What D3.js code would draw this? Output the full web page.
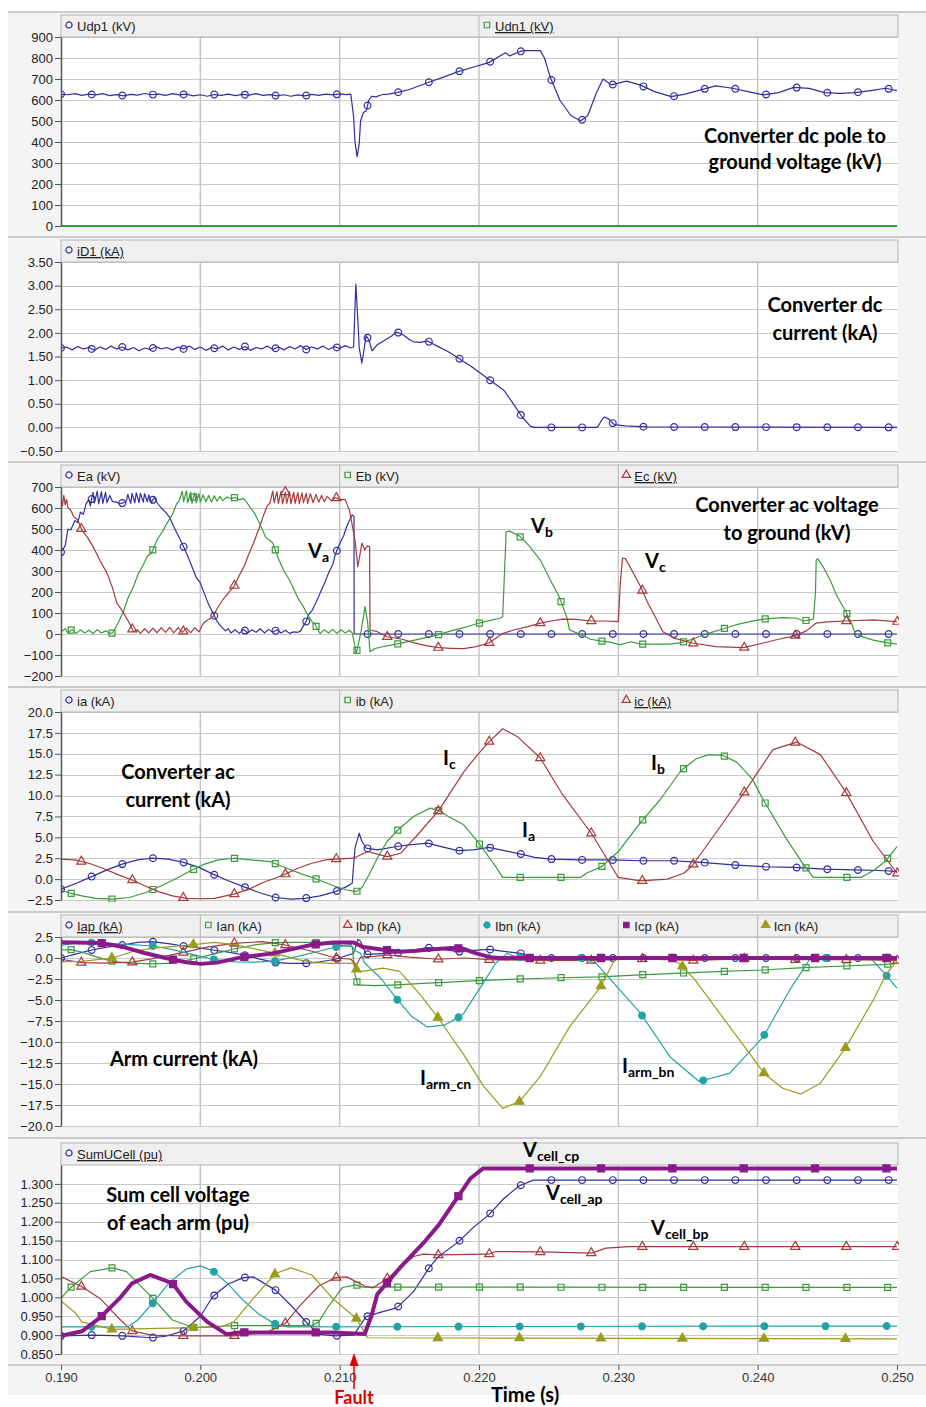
<!DOCTYPE html>
<html>
<head>
<meta charset="utf-8">
<script src="https://cdn.jsdelivr.net/npm/d3@7"></script>
<style>
body { margin: 0; background: #fff; }
.note { font-family: Lato, "Open Sans", sans-serif; font-weight: 700; fill: #000; }
</style>
</head>
<body>
<div id="chart"></div>
<script>
// ---- data (time in s, value) ----
var udp1 = [[0.1900,628],[0.1905,625],[0.1910,630],[0.1915,622],[0.1920,628],[0.1925,624],[0.1930,630],[0.1935,621],[0.1940,626],[0.1945,620],[0.1950,627],[0.1955,623],[0.1960,631],[0.1965,625],[0.1970,628],[0.1975,622],[0.1980,630],[0.1985,624],[0.1990,628],[0.1995,620],[0.2000,625],[0.2005,618],[0.2010,626],[0.2015,622],[0.2020,628],[0.2025,621],[0.2030,627],[0.2035,623],[0.2040,630],[0.2045,622],[0.2050,626],[0.2055,620],[0.2060,625],[0.2065,618],[0.2070,624],[0.2075,620],[0.2080,627],[0.2085,622],[0.2090,628],[0.2095,624],[0.2100,629],[0.2105,626],[0.2108,628],[0.2110,520],[0.2111,400],[0.21125,330],[0.2114,390],[0.2115,500],[0.2117,540],[0.2119,548],[0.2121,600],[0.2123,618],[0.2126,615],[0.2130,625],[0.2135,628],[0.2141,635],[0.2150,650],[0.2163,682],[0.2175,710],[0.2185,735],[0.2195,755],[0.2207,778],[0.2219,825],[0.2222,810],[0.2229,830],[0.2232,835],[0.2244,835],[0.2247,800],[0.2251,711],[0.2258,600],[0.2266,525],[0.2273,501],[0.2278,525],[0.2284,630],[0.2289,700],[0.2295,672],[0.2300,680],[0.2306,690],[0.2316,671],[0.2326,640],[0.2338,616],[0.2348,628],[0.2359,648],[0.2370,667],[0.2382,656],[0.2393,640],[0.2404,624],[0.2415,635],[0.2426,660],[0.2437,655],[0.2448,635],[0.2459,632],[0.2470,635],[0.2481,645],[0.2492,656],[0.2500,645]];
var udn1 = [[0.1900,0],[0.2500,0]];

var id1 = [[0.1900,1.68],[0.1904,1.70],[0.1908,1.64],[0.1912,1.71],[0.1916,1.66],[0.1920,1.69],[0.1924,1.63],[0.1928,1.70],[0.1932,1.65],[0.1936,1.72],[0.1940,1.66],[0.1944,1.70],[0.1948,1.64],[0.1952,1.69],[0.1956,1.62],[0.1960,1.68],[0.1964,1.65],[0.1968,1.71],[0.1972,1.66],[0.1976,1.69],[0.1980,1.64],[0.1984,1.70],[0.1988,1.66],[0.1992,1.72],[0.1996,1.65],[0.2000,1.70],[0.2004,1.63],[0.2008,1.69],[0.2012,1.66],[0.2016,1.72],[0.2020,1.64],[0.2024,1.70],[0.2028,1.65],[0.2032,1.71],[0.2036,1.63],[0.2040,1.69],[0.2044,1.66],[0.2048,1.72],[0.2052,1.65],[0.2056,1.70],[0.2060,1.64],[0.2064,1.71],[0.2068,1.66],[0.2072,1.73],[0.2076,1.65],[0.2080,1.70],[0.2084,1.66],[0.2088,1.72],[0.2092,1.65],[0.2096,1.71],[0.2100,1.67],[0.2104,1.73],[0.2108,1.68],[0.2110,1.70],[0.21116,3.03],[0.2113,2.30],[0.2114,1.70],[0.21159,1.36],[0.2117,1.55],[0.2119,1.94],[0.2121,1.85],[0.21233,1.62],[0.2127,1.75],[0.2132,1.84],[0.2137,1.93],[0.2141,2.02],[0.2146,1.95],[0.2150,1.86],[0.2153,1.81],[0.2158,1.80],[0.2163,1.83],[0.2170,1.72],[0.2178,1.60],[0.2185,1.47],[0.2195,1.28],[0.2207,1.02],[0.2218,0.78],[0.2225,0.48],[0.2231,0.22],[0.2237,0.02],[0.2240,0.0],[0.2285,0.0],[0.2288,0.15],[0.2290,0.22],[0.2293,0.18],[0.2297,0.06],[0.2305,0.03],[0.2320,0.01],[0.2500,0.0]];

var ea = [[0.1900,390],[0.1903,420],[0.1905,500],[0.1907,495],[0.1910,540],[0.1912,530],[0.1914,580],[0.1916,570],[0.1918,620],[0.1920,640],[0.1921,610],[0.1923,675],[0.1924,625],[0.1926,680],[0.1927,620],[0.1929,678],[0.1930,622],[0.1932,675],[0.1933,625],[0.1935,660],[0.1937,630],[0.1940,628],[0.1942,620],[0.1945,625],[0.1947,635],[0.1948,665],[0.1950,622],[0.1951,670],[0.1953,625],[0.1954,672],[0.1956,626],[0.1957,670],[0.1959,628],[0.1960,668],[0.1962,630],[0.1963,662],[0.1965,628],[0.1967,650],[0.1969,625],[0.1972,600],[0.1975,580],[0.1978,555],[0.1981,510],[0.1984,470],[0.1988,416],[0.1991,370],[0.1994,320],[0.1997,270],[0.2000,243],[0.2003,190],[0.2006,140],[0.2009,100],[0.2012,60],[0.2015,35],[0.2018,15],[0.2020,25],[0.2022,5],[0.2025,20],[0.2028,3],[0.2031,22],[0.2034,5],[0.2037,20],[0.2040,8],[0.2043,25],[0.2046,5],[0.2049,22],[0.2052,8],[0.2055,20],[0.2058,5],[0.2061,18],[0.2064,3],[0.2067,10],[0.2070,8],[0.2072,15],[0.2074,40],[0.2076,60],[0.2078,95],[0.2080,110],[0.2083,150],[0.2086,195],[0.2089,240],[0.2092,290],[0.2095,330],[0.2097,380],[0.2100,430],[0.2103,470],[0.2105,511],[0.2107,540],[0.2109,567],[0.21103,560],[0.21104,0],[0.2500,0]];
var eb = [[0.1900,10],[0.1903,25],[0.1905,5],[0.1908,22],[0.1911,3],[0.1914,20],[0.1917,5],[0.1920,18],[0.1923,2],[0.1926,20],[0.1929,5],[0.1932,15],[0.1935,3],[0.1937,5],[0.1940,40],[0.1942,67],[0.1945,110],[0.1948,170],[0.1952,225],[0.1955,280],[0.1959,330],[0.1962,370],[0.1965,386],[0.1969,450],[0.1973,490],[0.1976,527],[0.1980,570],[0.1983,620],[0.1985,638],[0.1987,680],[0.1988,630],[0.1990,682],[0.1991,625],[0.1993,675],[0.1994,622],[0.1996,672],[0.1997,624],[0.1999,668],[0.2000,628],[0.2002,662],[0.2004,630],[0.2006,660],[0.2008,628],[0.2010,658],[0.2012,632],[0.2014,655],[0.2016,635],[0.2019,652],[0.2022,645],[0.2025,650],[0.2028,640],[0.2031,645],[0.2033,630],[0.2036,600],[0.2039,574],[0.2043,520],[0.2047,460],[0.2052,433],[0.2056,360],[0.2060,300],[0.2064,257],[0.2068,200],[0.2071,160],[0.2074,130],[0.2077,90],[0.2080,60],[0.2082,50],[0.2084,25],[0.2086,2],[0.2089,20],[0.2092,5],[0.2095,22],[0.2098,3],[0.2101,20],[0.2104,5],[0.2107,18],[0.2109,5],[0.2111,-60],[0.21118,-95],[0.2113,-60],[0.2115,0],[0.2117,80],[0.21182,130],[0.2120,60],[0.21218,-84],[0.2125,-70],[0.2130,-62],[0.2135,-55],[0.2141,-48],[0.2150,-35],[0.2160,-20],[0.2170,-5],[0.2180,15],[0.2189,30],[0.2199,50],[0.2208,65],[0.2215,75],[0.2217,82],[0.22195,487],[0.2222,490],[0.2229,467],[0.2236,420],[0.2244,352],[0.2251,260],[0.2258,171],[0.2263,80],[0.2265,19],[0.2271,3],[0.2280,-25],[0.2287,-33],[0.2295,-40],[0.2301,-52],[0.2309,-37],[0.2316,-48],[0.2325,-48],[0.2337,-48],[0.2345,-41],[0.2353,-25],[0.2361,-5],[0.2368,10],[0.2375,24],[0.2385,45],[0.2395,60],[0.2404,71],[0.2418,78],[0.2428,75],[0.2433,62],[0.2440,71],[0.24415,200],[0.2442,352],[0.2443,359],[0.2447,320],[0.2452,257],[0.2457,180],[0.2463,111],[0.2468,40],[0.2470,2],[0.2476,-15],[0.2483,-29],[0.2492,-41],[0.2500,-48]];
var ec = [[0.1900,650],[0.1901,610],[0.1902,660],[0.1903,615],[0.1904,640],[0.1905,600],[0.1907,590],[0.1909,560],[0.1912,543],[0.1915,495],[0.1919,460],[0.1923,416],[0.1928,350],[0.1933,290],[0.1937,220],[0.1940,148],[0.1944,110],[0.1947,76],[0.1950,40],[0.1952,11],[0.1955,20],[0.1957,3],[0.1960,25],[0.1963,5],[0.1966,28],[0.1969,6],[0.1972,30],[0.1975,8],[0.1978,32],[0.1981,5],[0.1984,30],[0.1987,8],[0.1990,28],[0.1993,5],[0.1996,30],[0.1999,10],[0.2002,50],[0.2005,65],[0.2009,82],[0.2012,120],[0.2016,162],[0.2020,195],[0.2024,225],[0.2028,280],[0.2032,330],[0.2034,368],[0.2038,430],[0.2042,500],[0.2045,559],[0.2048,610],[0.2050,625],[0.2052,680],[0.2053,625],[0.2055,678],[0.2056,622],[0.2058,680],[0.2059,620],[0.2061,676],[0.2062,622],[0.2064,678],[0.2065,620],[0.2067,675],[0.2068,622],[0.2070,674],[0.2071,620],[0.2073,672],[0.2074,625],[0.2076,670],[0.2077,622],[0.2079,668],[0.2081,625],[0.2083,665],[0.2085,628],[0.2087,660],[0.2089,630],[0.2091,655],[0.2094,635],[0.2097,650],[0.2100,640],[0.2104,640],[0.2107,590],[0.2111,448],[0.2113,321],[0.2116,433],[0.2118,400],[0.2120,420],[0.21215,415],[0.21218,19],[0.2127,11],[0.2134,-13],[0.2145,-25],[0.2153,-41],[0.2162,-55],[0.2171,-65],[0.2180,-68],[0.2189,-70],[0.2198,-60],[0.2207,-43],[0.2217,2],[0.2225,19],[0.2235,35],[0.2244,52],[0.2252,62],[0.2260,71],[0.2270,70],[0.2281,62],[0.2290,62],[0.2300,59],[0.23015,250],[0.2303,362],[0.2305,359],[0.2310,300],[0.2316,225],[0.2321,150],[0.2325,100],[0.2332,11],[0.2340,-20],[0.2353,-43],[0.2370,-60],[0.2390,-65],[0.2404,-43],[0.2415,-25],[0.2426,-10],[0.2435,15],[0.2442,52],[0.2450,58],[0.2463,62],[0.2483,67],[0.2500,59]];

var ia = [[0.1900,-1.2],[0.1911,-0.5],[0.1922,0.3],[0.1933,1.1],[0.1944,1.8],[0.1955,2.3],[0.1965,2.5],[0.1977,2.4],[0.1988,2.0],[0.1999,1.4],[0.2009,0.6],[0.2020,-0.2],[0.2031,-0.9],[0.2042,-1.6],[0.2054,-2.2],[0.2065,-2.4],[0.2075,-2.3],[0.2086,-2.0],[0.2097,-1.5],[0.2105,-0.9],[0.2109,-0.5],[0.2111,3.7],[0.2114,5.5],[0.2116,4.5],[0.2119,3.7],[0.2127,3.5],[0.2141,3.9],[0.2150,4.1],[0.2163,4.3],[0.2175,3.8],[0.2185,3.4],[0.2196,3.5],[0.2207,3.8],[0.2218,3.4],[0.2230,3.0],[0.2240,2.6],[0.2251,2.4],[0.2273,2.3],[0.2295,2.3],[0.2316,2.2],[0.2339,2.2],[0.2350,2.1],[0.2360,2.0],[0.2382,1.7],[0.2404,1.5],[0.2426,1.4],[0.2448,1.2],[0.2470,1.1],[0.2492,1.0],[0.2500,0.9]];
var ib = [[0.1900,-1.3],[0.1907,-1.7],[0.1915,-2.0],[0.1925,-2.3],[0.1937,-2.4],[0.1949,-2.2],[0.1961,-1.6],[0.1972,-0.8],[0.1983,0.1],[0.1993,1.0],[0.2003,1.8],[0.2013,2.3],[0.2024,2.5],[0.2036,2.3],[0.2050,2.1],[0.2062,1.3],[0.2073,0.6],[0.2082,0.1],[0.2094,-0.7],[0.2105,-1.3],[0.2112,-1.5],[0.2116,-1.0],[0.2121,0.5],[0.2127,2.5],[0.2134,4.5],[0.2141,5.75],[0.2153,7.5],[0.2165,8.5],[0.2171,8.2],[0.2178,7.5],[0.2189,6.5],[0.2199,4.5],[0.2212,1.5],[0.2217,0.2],[0.2273,0.2],[0.2277,0.7],[0.2288,1.5],[0.2300,3.3],[0.2316,6.8],[0.2330,9.5],[0.2345,13.0],[0.2356,14.4],[0.2365,14.9],[0.2375,14.8],[0.2385,14.0],[0.2396,12.0],[0.2404,9.5],[0.2420,5.0],[0.2433,1.7],[0.2440,0.2],[0.2474,0.2],[0.2483,1.0],[0.2492,2.2],[0.2500,3.9]];
var ic = [[0.1900,2.4],[0.1910,2.3],[0.1920,1.9],[0.1930,1.3],[0.1940,0.6],[0.1951,-0.1],[0.1960,-0.8],[0.1970,-1.5],[0.1980,-2.0],[0.1990,-2.3],[0.2000,-2.35],[0.2010,-2.3],[0.2024,-1.8],[0.2035,-1.2],[0.2045,-0.4],[0.2055,0.2],[0.2061,0.6],[0.2070,1.3],[0.2080,1.9],[0.2090,2.3],[0.2097,2.4],[0.2110,2.5],[0.2120,3.3],[0.2127,3.0],[0.2134,2.7],[0.2144,3.1],[0.2158,5.7],[0.2171,8.2],[0.2180,10.5],[0.2189,12.8],[0.2198,14.7],[0.2207,16.4],[0.2217,18.0],[0.2228,17.0],[0.2244,14.5],[0.2260,10.1],[0.2281,5.4],[0.2300,0.2],[0.2316,-0.2],[0.2335,0.0],[0.2347,0.7],[0.2353,1.6],[0.2372,6.0],[0.2390,10.3],[0.2411,15.5],[0.2428,16.4],[0.2445,14.9],[0.2463,10.5],[0.2483,4.5],[0.2500,0.7]];

var iap = [[0.1900,0.0],[0.1911,0.5],[0.1922,0.95],[0.1933,1.3],[0.1944,1.55],[0.1955,1.85],[0.1965,1.95],[0.1977,1.7],[0.1988,1.43],[0.1999,1.2],[0.2009,0.95],[0.2020,0.7],[0.2031,0.36],[0.2042,-0.1],[0.2054,-0.55],[0.2065,-0.65],[0.2075,-0.63],[0.2086,-0.45],[0.2097,-0.15],[0.2105,0.3],[0.2110,0.55],[0.2113,2.2],[0.2115,2.0],[0.2117,1.15],[0.2119,0.44],[0.2128,0.5],[0.2141,0.6],[0.2152,0.9],[0.2163,1.23],[0.2175,1.0],[0.2185,0.75],[0.2196,0.9],[0.2207,1.03],[0.2218,0.8],[0.2230,0.55],[0.2237,0.1],[0.2245,0.0],[0.2500,0.0]];
var ian = [[0.1900,0.95],[0.1907,1.0],[0.1915,0.7],[0.1926,0.1],[0.1937,-0.4],[0.1948,-0.6],[0.1966,-0.7],[0.1980,-0.6],[0.1995,-0.12],[0.2010,0.5],[0.2024,1.07],[0.2040,1.6],[0.2054,1.83],[0.2068,1.85],[0.2082,1.85],[0.2097,1.55],[0.2109,1.35],[0.2111,-2.0],[0.2113,-3.2],[0.2125,-3.3],[0.2141,-3.2],[0.2163,-3.0],[0.2175,-2.9],[0.2199,-2.7],[0.2229,-2.5],[0.2258,-2.35],[0.2287,-2.25],[0.2316,-2.0],[0.2345,-1.8],[0.2375,-1.6],[0.2404,-1.43],[0.2433,-1.15],[0.2463,-0.95],[0.2492,-0.75],[0.2500,-0.63]];
var ibp = [[0.1900,-0.15],[0.1915,-0.55],[0.1930,-0.6],[0.1951,-0.5],[0.1965,-0.1],[0.1988,0.67],[0.2005,1.3],[0.2024,1.75],[0.2045,1.95],[0.2061,1.55],[0.2080,0.8],[0.2097,0.0],[0.2108,-0.15],[0.2112,-0.83],[0.2115,0.1],[0.2125,0.2],[0.2134,0.36],[0.2150,0.1],[0.2171,-0.15],[0.2190,0.0],[0.2207,-0.2],[0.2244,-0.3],[0.2280,-0.3],[0.2316,-0.1],[0.2353,-0.3],[0.2390,-0.1],[0.2426,-0.2],[0.2463,-0.2],[0.2500,-0.3]];
var ibn = [[0.1900,1.5],[0.1912,1.8],[0.1922,1.83],[0.1935,1.75],[0.1950,1.6],[0.1966,1.43],[0.1980,1.0],[0.1995,0.4],[0.2009,-0.15],[0.2025,-0.45],[0.2040,-0.5],[0.2054,-0.35],[0.2070,0.2],[0.2085,0.8],[0.2097,1.3],[0.2108,1.6],[0.2111,0.9],[0.2115,0.55],[0.2118,-0.6],[0.2130,-2.5],[0.2141,-4.9],[0.2152,-7.0],[0.2163,-8.2],[0.2175,-8.0],[0.2185,-7.1],[0.2189,-6.6],[0.2203,-3.0],[0.2212,-0.63],[0.2220,0.55],[0.2227,0.1],[0.2240,0.0],[0.2273,0.0],[0.2284,-0.6],[0.2316,-6.6],[0.2337,-11.75],[0.2358,-14.7],[0.2380,-13.7],[0.2404,-9.4],[0.2423,-3.8],[0.2438,0.0],[0.2481,0.0],[0.2492,-2.0],[0.2500,-3.6]];
var icp = [[0.1900,1.87],[0.1928,1.8],[0.1945,1.3],[0.1960,0.6],[0.1975,0.0],[0.1990,-0.5],[0.2000,-0.7],[0.2012,-0.55],[0.2030,0.1],[0.2052,0.55],[0.2070,1.2],[0.2081,1.6],[0.2095,1.85],[0.2110,1.85],[0.2117,1.3],[0.2130,1.0],[0.2143,0.75],[0.2155,0.85],[0.2165,1.0],[0.2180,1.2],[0.2189,1.1],[0.2198,0.55],[0.2208,0.1],[0.2215,0.0],[0.2500,0.0]];
var icn = [[0.1900,-0.44],[0.1915,-0.4],[0.1937,0.0],[0.1952,0.8],[0.1965,1.15],[0.1995,1.6],[0.2010,1.85],[0.2025,1.6],[0.2054,0.55],[0.2070,-0.2],[0.2082,-0.55],[0.2095,-0.63],[0.2110,-0.63],[0.2112,-1.35],[0.2116,-1.6],[0.2131,-1.2],[0.2143,-1.6],[0.2158,-4.4],[0.2171,-7.2],[0.2189,-11.5],[0.2203,-15.2],[0.2217,-17.9],[0.2229,-17.1],[0.2244,-14.1],[0.2265,-8.2],[0.2287,-3.5],[0.2298,0.0],[0.2337,0.0],[0.2345,-0.8],[0.2355,-2.6],[0.2380,-8.2],[0.2405,-13.8],[0.2418,-15.5],[0.2431,-16.2],[0.2445,-14.9],[0.2463,-10.7],[0.2483,-5.0],[0.2492,-2.0],[0.2500,-0.3]];

var cellAp = [[0.1900,0.898],[0.1922,0.90],[0.1944,0.898],[0.1965,0.893],[0.1975,0.897],[0.1988,0.911],[0.2000,0.95],[0.2009,1.002],[0.2020,1.035],[0.2031,1.052],[0.2038,1.054],[0.2054,1.019],[0.2066,0.975],[0.2075,0.938],[0.2085,0.902],[0.2097,0.898],[0.2110,0.90],[0.2115,0.927],[0.2119,0.949],[0.2131,0.962],[0.2141,0.972],[0.2153,1.015],[0.2164,1.077],[0.2171,1.108],[0.2185,1.146],[0.2196,1.185],[0.2207,1.218],[0.2218,1.262],[0.2229,1.295],[0.2239,1.31],[0.2500,1.31]];
var cellAn = [[0.1900,0.997],[0.1907,1.026],[0.1921,1.068],[0.1937,1.078],[0.1947,1.068],[0.1966,0.997],[0.1980,0.94],[0.1995,0.92],[0.2005,0.922],[0.2024,0.925],[0.2080,0.925],[0.2085,0.935],[0.2091,0.971],[0.2102,1.026],[0.2112,1.033],[0.2116,1.027],[0.2500,1.026]];
var cellBp = [[0.1900,1.055],[0.1915,1.028],[0.1928,0.997],[0.1940,0.95],[0.1951,0.911],[0.1965,0.90],[0.1988,0.898],[0.2024,0.898],[0.2048,0.908],[0.2061,0.931],[0.2072,0.98],[0.2085,1.03],[0.2097,1.052],[0.2105,1.054],[0.2119,1.028],[0.2124,1.025],[0.2134,1.049],[0.2153,1.108],[0.2160,1.114],[0.2171,1.112],[0.2207,1.114],[0.2212,1.121],[0.2244,1.12],[0.2281,1.117],[0.2291,1.13],[0.2308,1.134],[0.2500,1.134]];
var cellBn = [[0.1900,0.922],[0.1948,0.922],[0.1955,0.94],[0.1966,0.985],[0.1978,1.04],[0.1990,1.075],[0.2000,1.083],[0.2009,1.07],[0.2020,1.035],[0.2030,0.995],[0.2042,0.955],[0.2054,0.929],[0.2062,0.922],[0.2500,0.924]];
var cellCp = [[0.1900,0.898],[0.1915,0.91],[0.1928,0.946],[0.1942,0.997],[0.1951,1.037],[0.1964,1.059],[0.1980,1.037],[0.1990,0.988],[0.2005,0.935],[0.2019,0.902],[0.2028,0.907],[0.2095,0.907],[0.2118,0.903],[0.2123,0.953],[0.2127,1.008],[0.2143,1.077],[0.2160,1.143],[0.2171,1.191],[0.2189,1.288],[0.2194,1.315],[0.2203,1.341],[0.2500,1.341]];
var cellCn = [[0.1900,0.99],[0.1910,0.96],[0.1915,0.935],[0.1937,0.915],[0.1995,0.92],[0.2015,0.922],[0.2024,0.935],[0.2038,0.997],[0.2054,1.063],[0.2065,1.078],[0.2080,1.059],[0.2095,0.997],[0.2112,0.944],[0.2120,0.893],[0.2500,0.89]];

// ---- ticks and legend labels ----
var xTicks = [0.19, 0.20, 0.21, 0.22, 0.23, 0.24, 0.25];
var xGrid = [0.20, 0.21, 0.22, 0.23, 0.24];
var ticksUdc = [0, 100, 200, 300, 400, 500, 600, 700, 800, 900];
var ticksIdc = [-0.5, 0, 0.5, 1, 1.5, 2, 2.5, 3, 3.5];
var ticksEac = [-200, -100, 0, 100, 200, 300, 400, 500, 600, 700];
var ticksIac = [-2.5, 0, 2.5, 5, 7.5, 10, 12.5, 15, 17.5, 20];
var ticksArm = [-20, -17.5, -15, -12.5, -10, -7.5, -5, -2.5, 0, 2.5];
var ticksCell = [0.85, 0.9, 0.95, 1.0, 1.05, 1.1, 1.15, 1.2, 1.25, 1.3];
var legendUdc = ['Udp1 (kV)', 'Udn1 (kV)'];
var legendIdc = ['iD1 (kA)'];
var legendEac = ['Ea (kV)', 'Eb (kV)', 'Ec (kV)'];
var legendIac = ['ia (kA)', 'ib (kA)', 'ic (kA)'];
var legendArm = ['Iap (kA)', 'Ian (kA)', 'Ibp (kA)', 'Ibn (kA)', 'Icp (kA)', 'Icn (kA)'];
var legendCell = ['SumUCell (pu)'];

var colors = ['#2f2f9f', '#3b9a3b', '#a63a3a', '#23a3a8', '#8a1a8a', '#9b9b1d'];
var symbols = [d3.symbolCircle, d3.symbolSquare, d3.symbolTriangle, d3.symbolCircle, d3.symbolSquare, d3.symbolTriangle];
var filled = [false, false, false, true, true, true];
var axisFont = '"Liberation Sans", Arial, sans-serif';

var svg = d3.select('#chart').append('svg')
    .attr('width', 926)
    .attr('height', 1407);

var x = d3.scaleLinear().domain([0.19, 0.25]).range([61, 897]);
var bisect = d3.bisector(function(d) { return d[0]; }).left;

function valueAt(s, t) {
    var i = bisect(s, t);
    if (i <= 0) return s[0][1];
    if (i >= s.length) return s[s.length - 1][1];
    var a = s[i - 1], b = s[i];
    var f = (b[0] - a[0]) ? (t - a[0]) / (b[0] - a[0]) : 1;
    return a[1] + f * (b[1] - a[1]);
}

function drawSymbol(g, k, cx, cy, size) {
    g.append('path')
        .attr('d', d3.symbol().type(symbols[k]).size(size)())
        .attr('transform', 'translate(' + cx + ',' + cy + ')')
        .attr('fill', filled[k] ? colors[k] : 'none')
        .attr('stroke', colors[k])
        .attr('stroke-width', 1.2);
}

var panels = [
    {top: 37, bottom: 226, domain: [0, 900], ticks: ticksUdc, fmt: d3.format('d'),
     lines: [[udp1, 0, true], [udn1, 1, false]], legend: legendUdc, cells: [0.19, 0.22, 0.25], under: 1},
    {top: 262, bottom: 451, domain: [-0.5, 3.5], ticks: ticksIdc, fmt: d3.format('.2f'),
     lines: [[id1, 0, true]], legend: legendIdc, cells: [0.19, 0.25], under: 0},
    {top: 487, bottom: 676, domain: [-200, 700], ticks: ticksEac, fmt: d3.format('d'),
     lines: [[ea, 0, true], [eb, 1, true], [ec, 2, true]], legend: legendEac, cells: [0.19, 0.21, 0.23, 0.25], under: 2},
    {top: 712, bottom: 900, domain: [-2.5, 20], ticks: ticksIac, fmt: d3.format('.1f'),
     lines: [[ia, 0, true], [ib, 1, true], [ic, 2, true]], legend: legendIac, cells: [0.19, 0.21, 0.23, 0.25], under: 2},
    {top: 937, bottom: 1126, domain: [-20, 2.5], ticks: ticksArm, fmt: d3.format('.1f'),
     lines: [[iap, 0, true], [ian, 1, true], [ibp, 2, true], [ibn, 3, true], [icn, 5, true], [icp, 4, true]],
     legend: legendArm, cells: [0.19, 0.20, 0.21, 0.22, 0.23, 0.24, 0.25], under: 0},
    {top: 1165, bottom: 1354, domain: [0.85, 1.35], ticks: ticksCell, fmt: d3.format('.3f'),
     lines: [[cellAp, 0, true], [cellAn, 1, true], [cellBp, 2, true], [cellBn, 3, true], [cellCn, 5, true], [cellCp, 4, true]],
     legend: legendCell, cells: [0.19, 0.25], under: 0}
];

// panel backgrounds and separators
var bands = [12, 237, 462, 687, 912, 1138, 1395];
for (var b = 0; b < bands.length - 1; b++) {
    svg.append('rect').attr('x', 8).attr('y', bands[b]).attr('width', 918)
        .attr('height', bands[b + 1] - bands[b]).attr('fill', '#f4f4f4');
    svg.append('line').attr('x1', 8).attr('x2', 926).attr('y1', bands[b]).attr('y2', bands[b])
        .attr('stroke', '#bdbdbd').attr('stroke-width', 1.5);
}

panels.forEach(function(p, pi) {
    var y = d3.scaleLinear().domain(p.domain).range([p.bottom, p.top]);
    var g = svg.append('g');

    g.append('rect').attr('x', 61).attr('y', p.top).attr('width', 837)
        .attr('height', p.bottom - p.top).attr('fill', '#fff');

    // horizontal grid
    g.selectAll('.hgrid').data(p.ticks).enter().append('line')
        .attr('x1', 61).attr('x2', 898)
        .attr('y1', function(d) { return Math.round(y(d)) + 0.5; })
        .attr('y2', function(d) { return Math.round(y(d)) + 0.5; })
        .attr('stroke', '#c9c9c9').attr('stroke-width', 1.2);
    // vertical grid
    g.selectAll('.vgrid').data(xGrid).enter().append('line')
        .attr('x1', function(d) { return x(d); }).attr('x2', function(d) { return x(d); })
        .attr('y1', p.top).attr('y2', p.bottom)
        .attr('stroke', '#c4c4c4').attr('stroke-width', 1.5);

    // header with legend cells
    var hTop = p.top - 22;
    g.append('rect').attr('x', 61).attr('y', hTop).attr('width', 837).attr('height', 22)
        .attr('fill', '#efefef').attr('stroke', '#b5b5b5');
    p.legend.forEach(function(name, i) {
        var cx = x(p.cells[i]);
        if (i > 0) {
            g.append('line').attr('x1', cx).attr('x2', cx).attr('y1', hTop).attr('y2', p.top)
                .attr('stroke', '#b5b5b5');
        }
        var k = p.lines[i] ? p.lines[i][1] : 0;
        if (pi === 4) k = i;
        drawSymbol(g, k, cx + 8, hTop + 10, 30);
        g.append('text').attr('x', cx + 16).attr('y', hTop + 16)
            .attr('font-family', axisFont).attr('font-size', 13).attr('fill', '#222')
            .attr('text-decoration', i === p.under ? 'underline' : null)
            .text(name);
    });

    // clipped series
    var clipId = 'clip' + pi;
    svg.append('clipPath').attr('id', clipId).append('rect')
        .attr('x', 61).attr('y', p.top - 4).attr('width', 838).attr('height', p.bottom - p.top + 6);
    var plot = g.append('g').attr('clip-path', 'url(#' + clipId + ')');
    var line = d3.line().x(function(d) { return x(d[0]); }).y(function(d) { return y(d[1]); });

    p.lines.forEach(function(s) {
        var data = s[0], k = s[1];
        plot.append('path').datum(data)
            .attr('d', line)
            .attr('fill', 'none')
            .attr('stroke', colors[k])
            .attr('stroke-width', k === 4 ? 4 : (data === udn1 ? 2.2 : 1.2))
            .attr('stroke-linejoin', 'round');
        if (!s[2]) return;
        var step = 0.0022 + k * 0.00073;
        for (var t = 0.19 + k * 0.00073; t <= 0.2501; t += step) {
            drawSymbol(plot, k, x(t), y(valueAt(data, t)), k === 4 ? 50 : 36);
        }
    });

    // y axis
    var ax = g.append('g').attr('transform', 'translate(61,0)')
        .call(d3.axisLeft(y).tickValues(p.ticks).tickFormat(p.fmt).tickSize(6).tickSizeOuter(0));
    ax.select('.domain').attr('stroke', '#555').attr('stroke-width', 1.5);
    ax.selectAll('.tick line').attr('stroke', '#555');
    ax.selectAll('.tick text').attr('font-family', axisFont).attr('font-size', 13)
        .attr('fill', '#222').attr('x', -8);
});

// shared time axis
svg.append('line').attr('x1', 8).attr('x2', 926).attr('y1', 1365).attr('y2', 1365)
    .attr('stroke', '#aaa').attr('stroke-width', 1.2);
var xa = svg.append('g').attr('transform', 'translate(0,1365)')
    .call(d3.axisBottom(x).tickValues(xTicks).tickFormat(d3.format('.3f')).tickSize(5).tickSizeOuter(0));
xa.select('.domain').remove();
xa.selectAll('.tick line').attr('stroke', '#555');
xa.selectAll('.tick text').attr('font-family', axisFont).attr('font-size', 13).attr('fill', '#333');

// annotations
function note(tx, ty, txt, anchor) {
    svg.append('text').attr('class', 'note').attr('x', tx).attr('y', ty)
        .attr('font-size', 20).attr('text-anchor', anchor || 'middle').text(txt);
}
function subNote(tx, ty, main, sub) {
    var t = svg.append('text').attr('class', 'note').attr('x', tx).attr('y', ty).attr('font-size', 20);
    t.append('tspan').text(main);
    t.append('tspan').attr('font-size', 14).attr('dy', 4).text(sub);
}
note(795, 143, 'Converter dc pole to');
note(795, 169, 'ground voltage (kV)');
note(825, 312, 'Converter dc');
note(825, 340, 'current (kA)');
note(787, 512, 'Converter ac voltage');
note(787, 540, 'to ground (kV)');
subNote(308, 558, 'V', 'a');
subNote(531, 533, 'V', 'b');
subNote(645, 568, 'V', 'c');
note(178, 779, 'Converter ac');
note(178, 807, 'current (kA)');
subNote(443, 765, 'I', 'c');
subNote(651, 770, 'I', 'b');
subNote(522, 837, 'I', 'a');
note(184, 1066, 'Arm current (kA)');
subNote(420, 1085, 'I', 'arm_cn');
subNote(622, 1073, 'I', 'arm_bn');
note(178, 1202, 'Sum cell voltage');
note(178, 1230, 'of each arm (pu)');
subNote(523, 1157, 'V', 'cell_cp');
subNote(546, 1200, 'V', 'cell_ap');
subNote(651, 1235, 'V', 'cell_bp');
note(525, 1402, 'Time (s)');

// fault marker
svg.append('line').attr('x1', 354).attr('x2', 354).attr('y1', 1363).attr('y2', 1389)
    .attr('stroke', '#e00000').attr('stroke-width', 1.5);
svg.append('path').attr('d', 'M354,1353 L349.5,1366 L358.5,1366 Z').attr('fill', '#e00000');
svg.append('text').attr('class', 'note').attr('x', 354).attr('y', 1404).attr('font-size', 18)
    .attr('text-anchor', 'middle').style('fill', '#e00000').text('Fault');
</script>
</body>
</html>
